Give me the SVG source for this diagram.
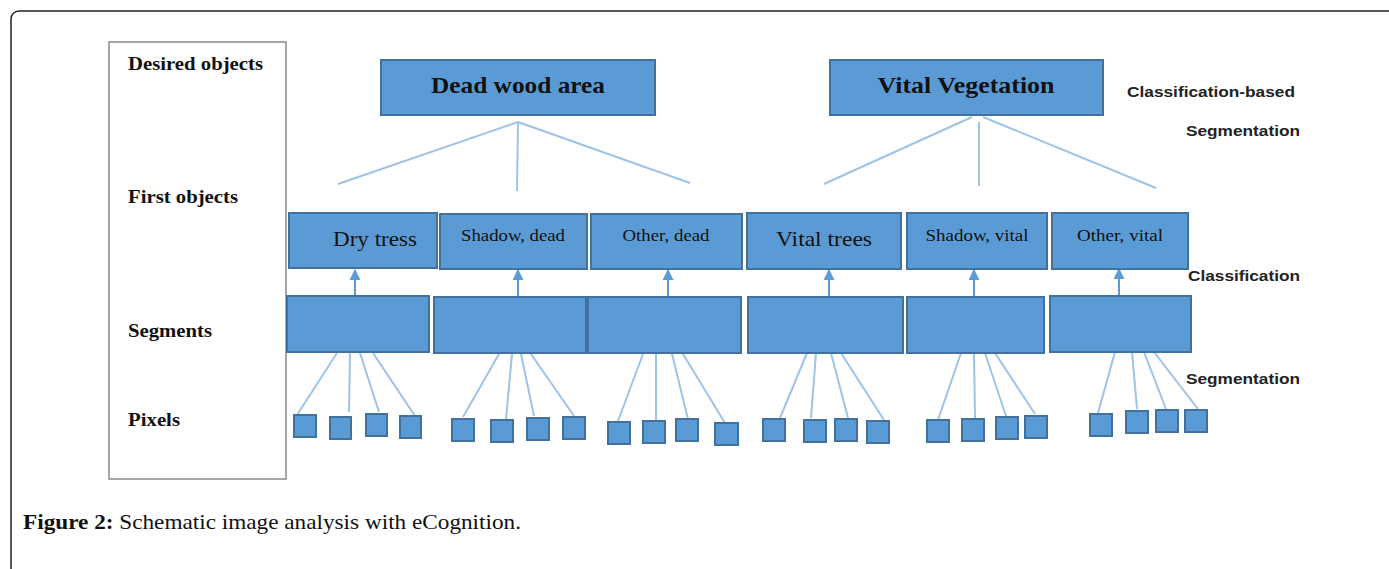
<svg xmlns="http://www.w3.org/2000/svg" width="1389" height="569" viewBox="0 0 1389 569">
<style>
.box{fill:#5b9bd5;stroke:#41719c;stroke-width:2}
.px{fill:#5b9bd5;stroke:#41719c;stroke-width:2}
.ln{stroke:#9dc3e6;stroke-width:2;fill:none}
.ar{stroke:#5b9bd5;stroke-width:2;fill:none}
.ttl{font-family:"Liberation Serif",serif;font-weight:bold;font-size:23px;fill:#111}
.obj{font-family:"Liberation Serif",serif;font-size:22px;fill:#111}
.obs{font-family:"Liberation Serif",serif;font-size:17px;fill:#111}
.lvl{font-family:"Liberation Serif",serif;font-weight:bold;font-size:18px;fill:#111}
.side{font-family:"Liberation Sans",Arial,sans-serif;font-weight:bold;font-size:15px;fill:#222}
.cap{font-family:"Liberation Serif",serif;font-size:21px;fill:#111}
</style>
<defs>
<marker id="ah" viewBox="0 0 10 10" refX="9" refY="5" markerWidth="11" markerHeight="11" markerUnits="userSpaceOnUse" orient="auto">
<path d="M0,0 L10,5 L0,10 Z" fill="#5b9bd5"/>
</marker>
</defs>
<rect x="0" y="0" width="1389" height="569" fill="#fff"/>
<rect id="frame" x="11" y="11" width="1400" height="600" rx="8" fill="none" stroke="#222" stroke-width="1.5"/>
<g id="levels">
<rect x="109" y="42" width="177" height="437" fill="#fff" stroke="#888" stroke-width="1.5"/>
<text class="lvl" x="128" y="70" textLength="135" lengthAdjust="spacingAndGlyphs">Desired objects</text>
<text class="lvl" x="128" y="203" textLength="110" lengthAdjust="spacingAndGlyphs">First objects</text>
<text class="lvl" x="128" y="337" textLength="84" lengthAdjust="spacingAndGlyphs">Segments</text>
<text class="lvl" x="128" y="426" textLength="52" lengthAdjust="spacingAndGlyphs">Pixels</text>
</g>
<g id="side-labels">
<text class="side" x="1127" y="97" textLength="168" lengthAdjust="spacingAndGlyphs">Classification-based</text>
<text class="side" x="1186" y="136" textLength="114" lengthAdjust="spacingAndGlyphs">Segmentation</text>
<text class="side" x="1188" y="281" textLength="112" lengthAdjust="spacingAndGlyphs">Classification</text>
<text class="side" x="1186" y="384" textLength="114" lengthAdjust="spacingAndGlyphs">Segmentation</text>
</g>
<g id="connectors">
<line class="ln" x1="518" y1="122" x2="338" y2="184"/>
<line class="ln" x1="518" y1="122" x2="517" y2="191"/>
<line class="ln" x1="518" y1="122" x2="690" y2="183"/>
<line class="ln" x1="972" y1="117" x2="824" y2="184"/>
<line class="ln" x1="979" y1="122" x2="979" y2="186"/>
<line class="ln" x1="983" y1="117" x2="1156" y2="188"/>
<line class="ar" x1="355" y1="296" x2="355" y2="270" marker-end="url(#ah)"/>
<line class="ar" x1="518" y1="297" x2="518" y2="270" marker-end="url(#ah)"/>
<line class="ar" x1="668" y1="297" x2="668" y2="270" marker-end="url(#ah)"/>
<line class="ar" x1="829" y1="297" x2="829" y2="270" marker-end="url(#ah)"/>
<line class="ar" x1="974" y1="297" x2="974" y2="270" marker-end="url(#ah)"/>
<line class="ar" x1="1119" y1="296" x2="1119" y2="269" marker-end="url(#ah)"/>
<line class="ln" x1="337" y1="353" x2="297" y2="415"/>
<line class="ln" x1="350" y1="353" x2="349" y2="412"/>
<line class="ln" x1="360" y1="353" x2="379" y2="412"/>
<line class="ln" x1="373" y1="353" x2="415" y2="416"/>
<line class="ln" x1="499" y1="354" x2="463" y2="417"/>
<line class="ln" x1="512" y1="354" x2="506" y2="419"/>
<line class="ln" x1="521" y1="354" x2="534" y2="416"/>
<line class="ln" x1="531" y1="354" x2="574" y2="416"/>
<line class="ln" x1="643" y1="354" x2="618" y2="421"/>
<line class="ln" x1="656" y1="354" x2="656" y2="421"/>
<line class="ln" x1="672" y1="354" x2="688" y2="419"/>
<line class="ln" x1="683" y1="354" x2="725" y2="423"/>
<line class="ln" x1="807" y1="353" x2="780" y2="418"/>
<line class="ln" x1="816" y1="353" x2="811" y2="418"/>
<line class="ln" x1="831" y1="353" x2="848" y2="418"/>
<line class="ln" x1="841" y1="353" x2="884" y2="420"/>
<line class="ln" x1="961" y1="353" x2="938" y2="420"/>
<line class="ln" x1="974" y1="353" x2="975" y2="418"/>
<line class="ln" x1="985" y1="353" x2="1006" y2="416"/>
<line class="ln" x1="995" y1="353" x2="1035" y2="414"/>
<line class="ln" x1="1115" y1="352" x2="1098" y2="413"/>
<line class="ln" x1="1132" y1="352" x2="1137" y2="409"/>
<line class="ln" x1="1144" y1="352" x2="1166" y2="409"/>
<line class="ln" x1="1154" y1="352" x2="1198" y2="409"/>
</g>
<g id="dead-wood-area">
<rect class="box" x="381" y="60" width="274" height="55"/>
<text class="ttl" x="518" y="93" text-anchor="middle" textLength="174" lengthAdjust="spacingAndGlyphs">Dead wood area</text>
</g>
<g id="vital-vegetation">
<rect class="box" x="830" y="60" width="273" height="55"/>
<text class="ttl" x="966" y="93" text-anchor="middle" textLength="177" lengthAdjust="spacingAndGlyphs">Vital Vegetation</text>
</g>
<g id="dry-tress">
<rect class="box" x="289" y="213" width="148" height="55"/>
<text class="obj" x="375" y="246" text-anchor="middle" textLength="84" lengthAdjust="spacingAndGlyphs">Dry tress</text>
</g>
<g id="shadow-dead">
<rect class="box" x="440" y="214" width="147" height="55"/>
<text class="obs" x="513" y="241" text-anchor="middle" textLength="104" lengthAdjust="spacingAndGlyphs">Shadow, dead</text>
</g>
<g id="other-dead">
<rect class="box" x="591" y="214" width="151" height="55"/>
<text class="obs" x="666" y="241" text-anchor="middle" textLength="87" lengthAdjust="spacingAndGlyphs">Other, dead</text>
</g>
<g id="vital-trees">
<rect class="box" x="747" y="213" width="154" height="56"/>
<text class="obj" x="824" y="246" text-anchor="middle" textLength="96" lengthAdjust="spacingAndGlyphs">Vital trees</text>
</g>
<g id="shadow-vital">
<rect class="box" x="907" y="213" width="140" height="56"/>
<text class="obs" x="977" y="241" text-anchor="middle" textLength="103" lengthAdjust="spacingAndGlyphs">Shadow, vital</text>
</g>
<g id="other-vital">
<rect class="box" x="1052" y="213" width="136" height="56"/>
<text class="obs" x="1120" y="241" text-anchor="middle" textLength="86" lengthAdjust="spacingAndGlyphs">Other, vital</text>
</g>
<g id="segment-1"><rect class="box" x="287" y="296" width="142" height="56"/></g>
<g id="segment-2"><rect class="box" x="434" y="297" width="152" height="56"/></g>
<g id="segment-3"><rect class="box" x="588" y="297" width="153" height="56"/></g>
<g id="segment-4"><rect class="box" x="748" y="297" width="155" height="56"/></g>
<g id="segment-5"><rect class="box" x="907" y="297" width="137" height="56"/></g>
<g id="segment-6"><rect class="box" x="1050" y="296" width="141" height="56"/></g>
<g id="pixels-1">
<rect class="px" x="294" y="415" width="22" height="22"/>
<rect class="px" x="330" y="417" width="21" height="22"/>
<rect class="px" x="366" y="414" width="21" height="22"/>
<rect class="px" x="400" y="416" width="21" height="22"/>
</g>
<g id="pixels-2">
<rect class="px" x="452" y="419" width="22" height="22"/>
<rect class="px" x="491" y="420" width="22" height="22"/>
<rect class="px" x="527" y="418" width="22" height="22"/>
<rect class="px" x="563" y="417" width="22" height="22"/>
</g>
<g id="pixels-3">
<rect class="px" x="608" y="422" width="22" height="22"/>
<rect class="px" x="643" y="421" width="22" height="22"/>
<rect class="px" x="676" y="419" width="22" height="22"/>
<rect class="px" x="715" y="423" width="23" height="22"/>
</g>
<g id="pixels-4">
<rect class="px" x="763" y="419" width="22" height="22"/>
<rect class="px" x="804" y="420" width="22" height="22"/>
<rect class="px" x="835" y="419" width="22" height="22"/>
<rect class="px" x="867" y="421" width="22" height="22"/>
</g>
<g id="pixels-5">
<rect class="px" x="927" y="420" width="22" height="22"/>
<rect class="px" x="962" y="419" width="22" height="22"/>
<rect class="px" x="996" y="417" width="22" height="22"/>
<rect class="px" x="1025" y="416" width="22" height="22"/>
</g>
<g id="pixels-6">
<rect class="px" x="1090" y="414" width="22" height="22"/>
<rect class="px" x="1126" y="411" width="22" height="22"/>
<rect class="px" x="1156" y="410" width="22" height="22"/>
<rect class="px" x="1185" y="410" width="22" height="22"/>
</g>
<g id="caption">
<text class="cap" x="23" y="529" textLength="498" lengthAdjust="spacingAndGlyphs"><tspan font-weight="bold">Figure 2:</tspan> Schematic image analysis with eCognition.</text>
</g>
</svg>
